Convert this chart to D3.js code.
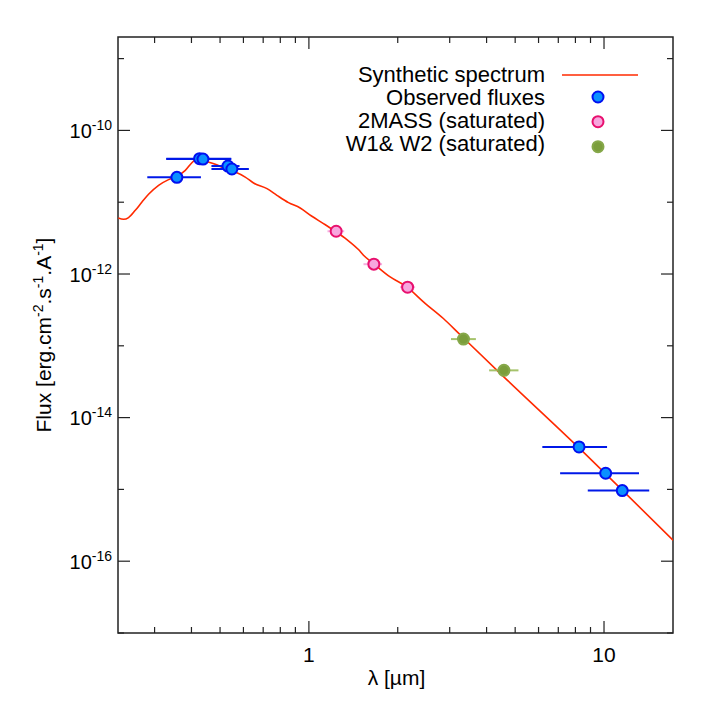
<!DOCTYPE html>
<html>
<head>
<meta charset="utf-8">
<script src="https://cdn.jsdelivr.net/npm/d3@7"></script>
<style>
  html, body { margin: 0; padding: 0; background: #fff; }
  svg { display: block; font-family: "Liberation Sans", Arial, Helvetica, sans-serif; }
</style>
</head>
<body>
<svg id="chart" width="709" height="709"></svg>
<script>
// Synthetic spectrum (wavelength in µm, flux in erg/cm2/s/A)
const specWave = [0.226, 0.2356, 0.2449, 0.2581, 0.2719, 0.2862, 0.3095, 0.3346, 0.3573, 0.3813,
  0.4066, 0.4227, 0.4385, 0.4817, 0.5206, 0.563, 0.6085, 0.6494, 0.7211, 0.7791,
  0.8529, 0.9343, 1.0237, 1.1205, 1.2278, 1.345, 1.472, 1.531, 1.655, 1.885,
  2.147, 2.444, 2.856, 3.253, 4.585, 8.23, 11.51, 17.16];
const specFlux = [6.03e-12, 5.78e-12, 6.11e-12, 7.71e-12, 1.006e-11, 1.288e-11, 1.718e-11, 2.062e-11, 2.293e-11, 2.779e-11,
  3.741e-11, 4.04e-11, 3.83e-11, 3.37e-11, 2.93e-11, 2.63e-11, 2.24e-11, 1.849e-11, 1.546e-11, 1.247e-11,
  9.87e-12, 8.31e-12, 6.37e-12, 5.04e-12, 3.94e-12, 3.02e-12, 2.19e-12, 1.826e-12, 1.40e-12, 9.11e-13,
  6.62e-13, 4.09e-13, 2.40e-13, 1.43e-13, 3.67e-14, 3.78e-15, 9.84e-16, 1.95e-16];

// Observed fluxes
const obsWave = [0.357, 0.4261, 0.4375, 0.5318, 0.5484, 8.23, 10.13, 11.53];
const obsFlux = [2.22e-11, 4.04e-11, 3.99e-11, 3.19e-11, 2.90e-11, 3.90e-15, 1.68e-15, 9.62e-16];
const obsLo = [0.2834, 0.3287, 0.3287, 0.4675, 0.4675, 6.18, 7.10, 8.81];
const obsHi = [0.4307, 0.5455, 0.5455, 0.582, 0.626, 10.24, 13.14, 14.23];

// 2MASS (saturated)
const massWave = [1.237, 1.66, 2.16];
const massFlux = [3.94e-12, 1.37e-12, 6.55e-13];
const massLo = [1.156, 1.531, 2.037];
const massHi = [1.317, 1.77, 2.29];

// W1 & W2 (saturated)
const wiseWave = [3.34, 4.58];
const wiseFlux = [1.24e-13, 4.55e-14];
const wiseLo = [3.03, 4.08];
const wiseHi = [3.68, 5.13];

const xDomain = [0.2255, 17.13];
const yDomain = [1e-17, 2e-9];
const xLabels = [1, 10];
const yLabelExps = [-16, -14, -12, -10];

const legendItems = ["Synthetic spectrum", "Observed fluxes", "2MASS (saturated)", "W1& W2 (saturated)"];

const L = 118, R = 673, T = 37, B = 633;
const svg = d3.select("#chart");

const x = d3.scaleLog().domain(xDomain).range([L, R]);
const y = d3.scaleLog().domain(yDomain).range([B, T]);

svg.append("defs").append("clipPath").attr("id", "clip")
  .append("rect").attr("x", L).attr("y", T).attr("width", R - L).attr("height", B - T);

const axisColor = "#222";

// ticks (inward, mirrored)
const g = svg.append("g");
x.ticks().forEach(v => {
  const major = Math.abs(Math.log10(v) - Math.round(Math.log10(v))) < 1e-9;
  const len = major ? 12 : 6;
  g.append("line").attr("x1", x(v)).attr("x2", x(v)).attr("y1", B).attr("y2", B - len)
    .attr("stroke", axisColor).attr("stroke-width", 1.2);
  g.append("line").attr("x1", x(v)).attr("x2", x(v)).attr("y1", T).attr("y2", T + len)
    .attr("stroke", axisColor).attr("stroke-width", 1.2);
});
d3.range(-17, -8).forEach(e => {
  const v = Math.pow(10, e);
  const len = e % 2 === 0 ? 12 : 6;
  g.append("line").attr("x1", L).attr("x2", L + len).attr("y1", y(v)).attr("y2", y(v))
    .attr("stroke", axisColor).attr("stroke-width", 1.2);
  g.append("line").attr("x1", R - len).attr("x2", R).attr("y1", y(v)).attr("y2", y(v))
    .attr("stroke", axisColor).attr("stroke-width", 1.2);
});

// frame
svg.append("rect").attr("x", L).attr("y", T).attr("width", R - L).attr("height", B - T)
  .attr("fill", "none").attr("stroke", axisColor).attr("stroke-width", 1.5);

// tick labels
xLabels.forEach(v => {
  svg.append("text").attr("x", x(v)).attr("y", B + 29).attr("text-anchor", "middle")
    .attr("font-size", 21).attr("fill", "#000").text(v);
});
yLabelExps.forEach(e => {
  const t = svg.append("text").attr("x", L - 6).attr("y", y(Math.pow(10, e)) + 7.5)
    .attr("text-anchor", "end").attr("font-size", 20).attr("fill", "#000");
  t.append("tspan").text("10");
  t.append("tspan").attr("font-size", 14).attr("dy", -8).text(e);
});

// axis titles
svg.append("text").attr("x", (L + R) / 2 + 1).attr("y", 685).attr("text-anchor", "middle")
  .attr("font-size", 21).attr("fill", "#000").text("λ [µm]");

const yt = svg.append("text").attr("transform", "translate(51,335) rotate(-90)")
  .attr("text-anchor", "middle").attr("font-size", 21).attr("fill", "#000");
[["Flux [erg.cm", false], ["-2", true], [".s", false], ["-1", true], [".A", false], ["-1", true], ["]", false]]
  .forEach(([s, sup]) => {
    yt.append("tspan").attr("font-size", sup ? 14 : 21).attr("dy", sup ? -8 : 8).text(s);
  });
yt.select("tspan").attr("dy", 0);

// spectrum
const spec = specWave.map((w, i) => [w, specFlux[i]]);
const line = d3.line().x(d => x(d[0])).y(d => y(d[1])).curve(d3.curveMonotoneX);
svg.append("path").datum(spec).attr("clip-path", "url(#clip)")
  .attr("d", line).attr("fill", "none").attr("stroke", "#ff2a00").attr("stroke-width", 1.6);

function drawSet(wave, flux, lo, hi, style) {
  const grp = svg.append("g");
  wave.forEach((w, i) => {
    grp.append("line").attr("x1", x(lo[i])).attr("x2", x(hi[i]))
      .attr("y1", y(flux[i])).attr("y2", y(flux[i]))
      .attr("stroke", style.bar).attr("stroke-width", 2).attr("stroke-opacity", style.barOpacity);
  });
  wave.forEach((w, i) => {
    grp.append("circle").attr("cx", x(w)).attr("cy", y(flux[i])).attr("r", 5.5)
      .attr("fill", style.fill).attr("stroke", style.stroke).attr("stroke-width", 2);
  });
}

const obsStyle = { fill: "#0a90ff", stroke: "#0010f0", bar: "#0018e8", barOpacity: 1 };
const massStyle = { fill: "#f7a6de", stroke: "#e8106e", bar: "#f59ad8", barOpacity: 0.8 };
const wiseStyle = { fill: "#7b9e3c", stroke: "#86a84a", bar: "#9cbc5c", barOpacity: 0.9 };

drawSet(massWave, massFlux, massLo, massHi, massStyle);
drawSet(wiseWave, wiseFlux, wiseLo, wiseHi, wiseStyle);
drawSet(obsWave, obsFlux, obsLo, obsHi, obsStyle);

// legend
const legTextY = [82, 105, 128, 151];
const legMarkY = [75, 97, 121.7, 146.7];
legendItems.forEach((name, i) => {
  svg.append("text").attr("x", 545).attr("y", legTextY[i]).attr("text-anchor", "end")
    .attr("font-size", 22).attr("fill", "#000").text(name);
});
svg.append("line").attr("x1", 562).attr("x2", 638).attr("y1", legMarkY[0]).attr("y2", legMarkY[0])
  .attr("stroke", "#ff2a00").attr("stroke-width", 1.6);
[obsStyle, massStyle, wiseStyle].forEach((s, i) => {
  svg.append("circle").attr("cx", 598).attr("cy", legMarkY[i + 1]).attr("r", 5.5)
    .attr("fill", s.fill).attr("stroke", s.stroke).attr("stroke-width", 2);
});
</script>
</body>
</html>
